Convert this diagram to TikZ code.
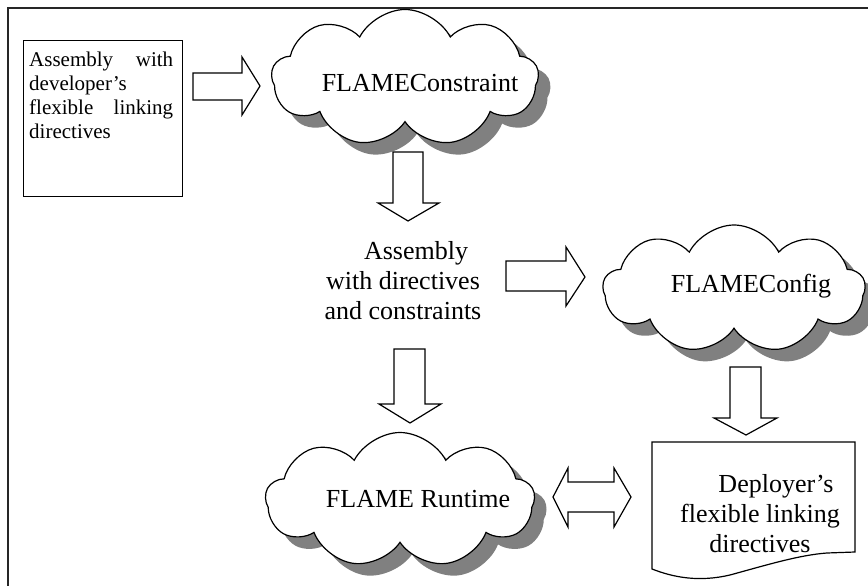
\documentclass[tikz,border=0pt]{standalone}
\usepackage{fontspec}
\setmainfont{Liberation Serif}
\usetikzlibrary{shapes.symbols}
\tikzset{
  frameline/.style={line width=1.6pt, draw=black!85},
  boxline/.style={draw=black, line width=1.2pt},
  blockarrow/.style={draw=black, line width=1.2pt, fill=white, line join=miter},
  cloudbody/.style={cloud, cloud puffs=9, cloud puff arc=125, aspect=2, draw=black, line width=1.2pt, fill=white, inner sep=0pt},
  cloudshadow/.style={cloud, cloud puffs=9, cloud puff arc=125, aspect=2, draw=none, fill=black!50, inner sep=0pt},
  bigtext/.style={font=\fontsize{26}{30}\selectfont, inner sep=0pt},
  smalltext/.style={font=\fontsize{21}{24}\selectfont, inner sep=0pt}
}
\begin{document}
\begin{tikzpicture}[x=1pt, y=-1pt]
\useasboundingbox (0,0) rectangle (868,586);
% outer frame (only top and left edges are visible)
\draw[frameline] (870,8) -- (8,8) -- (8,588);

% input box
\node[boxline, draw, minimum width=159pt, minimum height=156pt, anchor=north west, inner sep=0pt] (inbox) at (23,40) {};
\node[smalltext, text width=144pt, anchor=north west] (intext) at (29,52)
  {Assembly\hfill with\\developer’s\\flexible\hfill linking\\directives};

% clouds: shadows
\node[cloudshadow, minimum width=267pt, minimum height=137pt] (c1s) at (417,90) {};
\node[cloudshadow, minimum width=262pt, minimum height=128pt] (c2s) at (746,301) {};
\node[cloudshadow, minimum width=269pt, minimum height=135pt] (c3s) at (412,512) {};
% clouds
\node[cloudbody, minimum width=267pt, minimum height=137pt] (c1) at (405,78) {};
\node[cloudbody, minimum width=262pt, minimum height=128pt] (c2) at (734,289) {};
\node[cloudbody, minimum width=269pt, minimum height=135pt] (c3) at (400,500) {};
\node[bigtext, anchor=base] (t1) at (420,92) {FLAMEConstraint};
\node[bigtext, anchor=base] (t2) at (751,292) {FLAMEConfig};
\node[bigtext, anchor=base] (t3) at (418,507) {FLAME Runtime};

% middle text
\node[bigtext, align=center] (mid) at (403,281) {\hspace*{26pt}Assembly\\with directives\\and constraints};

% document shape
\draw[boxline, fill=white] (652,442) -- (855,442) -- (855,552) -- (827,553)
  .. controls (800,555) and (770,564) .. (730,575)
  .. controls (700,582) and (675,578) .. (652,569) -- cycle;
\node[bigtext, align=center] (doc) at (760,514) {\hspace*{32pt}Deployer’s\\flexible linking\\directives};

% block arrows
\draw[blockarrow] (193,73) -- (242,73) -- (242,57) -- (260,86) -- (242,115) -- (242,100) -- (193,100) -- cycle;
\draw[blockarrow] (393,152) -- (423,152) -- (423,203) -- (439,203) -- (408,221) -- (378,203) -- (393,203) -- cycle;
\draw[blockarrow] (506,261) -- (566,261) -- (566,247) -- (585,277) -- (566,306) -- (566,291) -- (506,291) -- cycle;
\draw[blockarrow] (394,349) -- (425,349) -- (425,404) -- (441,404) -- (410,423) -- (379,404) -- (394,404) -- cycle;
\draw[blockarrow] (730,367) -- (761,367) -- (761,418) -- (777,418) -- (746,435) -- (714,418) -- (730,418) -- cycle;
\draw[blockarrow] (553,497) -- (568,468) -- (568,482) -- (614,482) -- (614,468) -- (631,497) -- (614,527) -- (614,512) -- (568,512) -- (568,527) -- cycle;
\end{tikzpicture}
\end{document}
